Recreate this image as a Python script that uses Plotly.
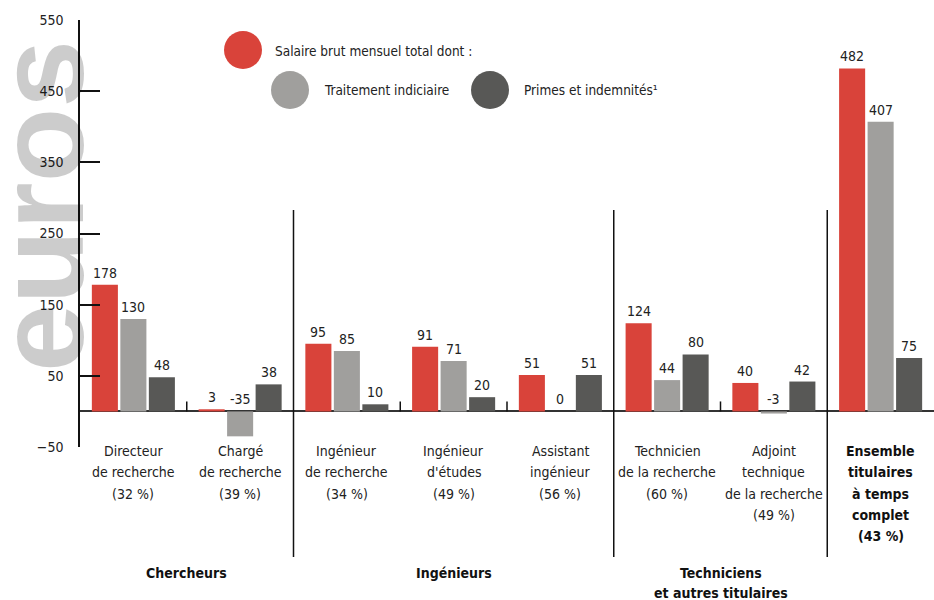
import plotly.graph_objects as go

categories = ["Directeur<br>de recherche<br>(32 %)", "Chargé<br>de recherche<br>(39 %)",
              "Ingénieur<br>de recherche<br>(34 %)", "Ingénieur<br>d'études<br>(49 %)",
              "Assistant<br>ingénieur<br>(56 %)", "Technicien<br>de la recherche<br>(60 %)",
              "Adjoint<br>technique<br>de la recherche<br>(49 %)",
              "Ensemble<br>titulaires<br>à temps<br>complet<br>(43 %)"]
category_bold = [False, False, False, False, False, False, False, True]
series_names = ["Salaire brut mensuel total dont :", "Traitement indiciaire", "Primes et indemnités¹"]
salaire_total = [178, 3, 95, 91, 51, 124, 40, 482]
traitement = [130, -35, 85, 71, 0, 44, -3, 407]
primes = [48, 38, 10, 20, 51, 80, 42, 75]
groups = ["Chercheurs", "Ingénieurs", "Techniciens<br>et autres titulaires"]
group_pos = [0.5, 3, 5.5]
separators = [1.5, 4.5, 6.5]
minor_ticks = [0.5, 2.5, 3.5, 5.5]
y_ticks = [-50, 50, 150, 250, 350, 450, 550]

colors = ["#D9433A", "#A09F9D", "#585856"]
offsets = [-0.267, 0.0, 0.267]
bar_w = 0.244
FONT = "DejaVu Sans Condensed, Roboto, sans-serif"

W, H = 934, 600
ML, MR, MT, MB = 80, 0, 20, 153
PW, PH = W - ML - MR, H - MT - MB


def px(xp):
    return (xp - ML) / PW


def py(yp):
    return (H - MB - yp) / PH


fig = go.Figure()
values = [salaire_total, traitement, primes]
n = len(categories)
for k, vals in enumerate(values):
    fig.add_trace(go.Bar(
        x=[i + offsets[k] for i in range(n)], y=vals, width=bar_w,
        marker=dict(color=colors[k], line=dict(width=0)), name=series_names[k],
        showlegend=False, hoverinfo="y"))

annotations = []
# big "euros" label
annotations.append(dict(text="<b>euros</b>", xref="paper", yref="paper", x=px(41), y=py(206),
                        xanchor="center", yanchor="middle", textangle=-90, showarrow=False,
                        font=dict(family="Liberation Sans, Arial, sans-serif", size=122,
                                  color="rgba(0,0,0,0.2)")))
# value labels
for k, vals in enumerate(values):
    for i, v in enumerate(vals):
        annotations.append(dict(text=str(v), x=i + offsets[k], y=max(v, 0), xref="x", yref="y",
                                xanchor="center", yanchor="bottom", showarrow=False, yshift=2,
                                font=dict(family=FONT, size=14, color="#222222")))
# category labels, one annotation per line
for i, c in enumerate(categories):
    for j, line in enumerate(c.split("<br>")):
        txt = "<b>%s</b>" % line if category_bold[i] else line
        annotations.append(dict(text=txt, x=i, y=py(451 + 21.3 * j), xref="x", yref="paper",
                                xanchor="center", yanchor="middle", showarrow=False,
                                font=dict(family=FONT, size=14,
                                          color="#111111" if category_bold[i] else "#222222")))
# group labels
for g, gp in zip(groups, group_pos):
    for j, line in enumerate(g.split("<br>")):
        annotations.append(dict(text="<b>%s</b>" % line, x=gp, y=py(573 + 20 * j), xref="x",
                                yref="paper", xanchor="center", yanchor="middle",
                                showarrow=False,
                                font=dict(family=FONT, size=14, color="#111111")))
# legend
leg_text_pos = [(273, 51), (322, 90), (522, 90)]
leg_circ_pos = [(243, 50), (290, 90), (490, 90)]
shapes = []
for k in range(3):
    tx, ty = leg_text_pos[k]
    annotations.append(dict(text=series_names[k], x=px(tx), y=py(ty), xref="paper", yref="paper",
                            xanchor="left", yanchor="middle", showarrow=False,
                            font=dict(family=FONT, size=13.5, color="#222222")))
    cx, cy = leg_circ_pos[k]
    shapes.append(dict(type="circle", xref="paper", yref="paper", x0=px(cx - 19), x1=px(cx + 19),
                       y0=py(cy + 19), y1=py(cy - 19), fillcolor=colors[k], line=dict(width=0)))

for s in separators:
    shapes.append(dict(type="line", xref="x", yref="paper", x0=s, x1=s, y0=py(557), y1=py(210),
                       line=dict(color="#111111", width=1.5)))
for m in minor_ticks:
    shapes.append(dict(type="line", xref="x", yref="y", x0=m, x1=m, y0=0, y1=14,
                       line=dict(color="#111111", width=1.5)))

fig.update_layout(
    width=W, height=H, margin=dict(l=ML, r=MR, t=MT, b=MB),
    plot_bgcolor="white", paper_bgcolor="white", barmode="overlay",
    annotations=annotations, shapes=shapes, showlegend=False,
    xaxis=dict(range=[-0.5, 7.5], showticklabels=False, showgrid=False, zeroline=False,
               showline=False, ticks=""),
    yaxis=dict(range=[-50, 550], tickvals=y_ticks, ticks="inside", ticklen=20, tickwidth=1.5,
               tickcolor="#111111", showline=True, linecolor="#111111", linewidth=1.5,
               showgrid=False, zeroline=True, zerolinecolor="#333333", zerolinewidth=1.5,
               ticklabelstandoff=12,
               tickfont=dict(family=FONT, size=14, color="#222222")),
)

fig.write_html("out.html", config={"displayModeBar": False},
               post_script="document.body.style.margin='0';")
